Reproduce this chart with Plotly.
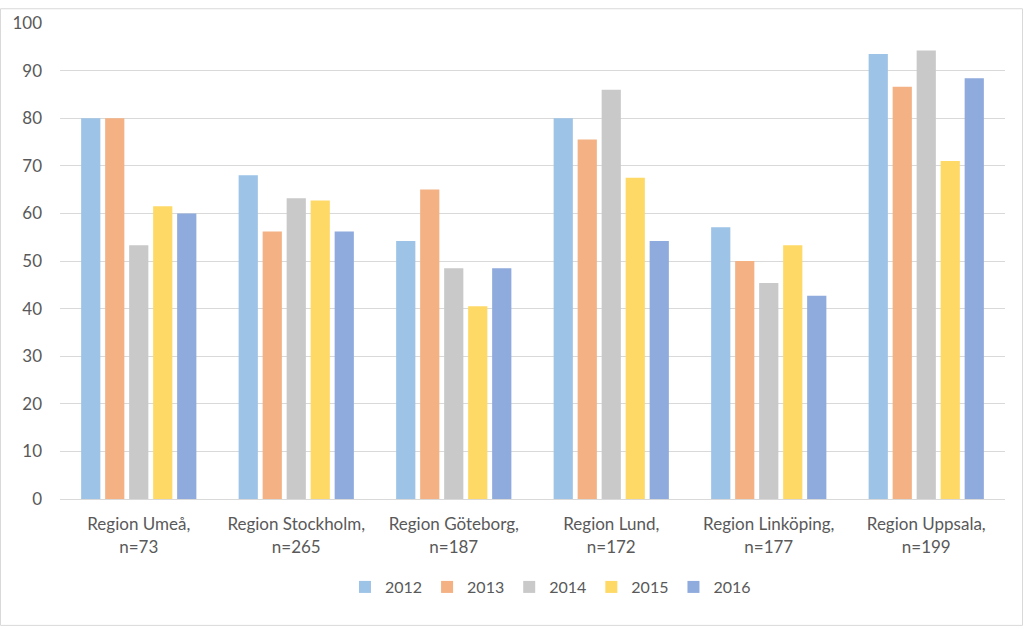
import plotly.graph_objects as go

categories = ["Region Umeå,<br>n=73", "Region Stockholm,<br>n=265", "Region Göteborg,<br>n=187",
              "Region Lund,<br>n=172", "Region Linköping,<br>n=177", "Region Uppsala,<br>n=199"]
years = ["2012", "2013", "2014", "2015", "2016"]
v2012 = [80, 68, 54.2, 80, 57.1, 93.5]
v2013 = [80, 56.2, 65, 75.5, 50, 86.6]
v2014 = [53.3, 63.2, 48.5, 86, 45.4, 94.2]
v2015 = [61.5, 62.7, 40.5, 67.5, 53.3, 71]
v2016 = [60, 56.2, 48.5, 54.2, 42.7, 88.4]
series = [v2012, v2013, v2014, v2015, v2016]
colors = ["#9DC3E6", "#F4B183", "#C9C9C9", "#FFD966", "#8FAADC"]

fig = go.Figure()
for name, vals, col in zip(years, series, colors):
    fig.add_trace(go.Bar(x=categories, y=vals, name=name, marker=dict(color=col, line=dict(width=0))))

W, H = 1024, 629
ml, mr, mt, mb = 60, 19, 15, 130
pw, ph = W - ml - mr, H - mt - mb

fig.update_layout(
    width=W, height=H,
    margin=dict(l=ml, r=mr, t=mt, b=mb, pad=0),
    paper_bgcolor="white", plot_bgcolor="white",
    barmode="group", bargap=0.238, bargroupgap=0.2,
    font=dict(family="Lato, Liberation Sans, sans-serif", size=17, color="#595959"),
    showlegend=True,
    legend=dict(orientation="h", x=0.519, xanchor="center", y=-(589 - 499.5) / ph, yanchor="middle",
                font=dict(size=16, color="#595959"), itemwidth=30, traceorder="normal"),
    xaxis=dict(showgrid=False, showline=True, linecolor="#D9D9D9", linewidth=1, ticks="",
               ticklabelstandoff=10, tickfont=dict(size=17, color="#595959")),
    yaxis=dict(range=[0, 100], dtick=10, showgrid=True, gridcolor="#D9D9D9", gridwidth=1,
               zeroline=False, showline=False, ticks="", ticklabelstandoff=17,
               tickfont=dict(size=17, color="#595959")),
    shapes=[dict(type="rect", xref="paper", yref="paper",
                 x0=-(ml - 0.5) / pw, x1=1 + (mr - 1.5) / pw,
                 y0=-(mb - 1.5) / ph, y1=1 + (mt - 0.5) / ph,
                 line=dict(color="#D9D9D9", width=1), fillcolor="rgba(0,0,0,0)", layer="below")],
)

fig.write_html("out.html", config={"displayModeBar": False},
               post_script="document.body.style.margin='0';document.body.style.overflow='hidden';")
